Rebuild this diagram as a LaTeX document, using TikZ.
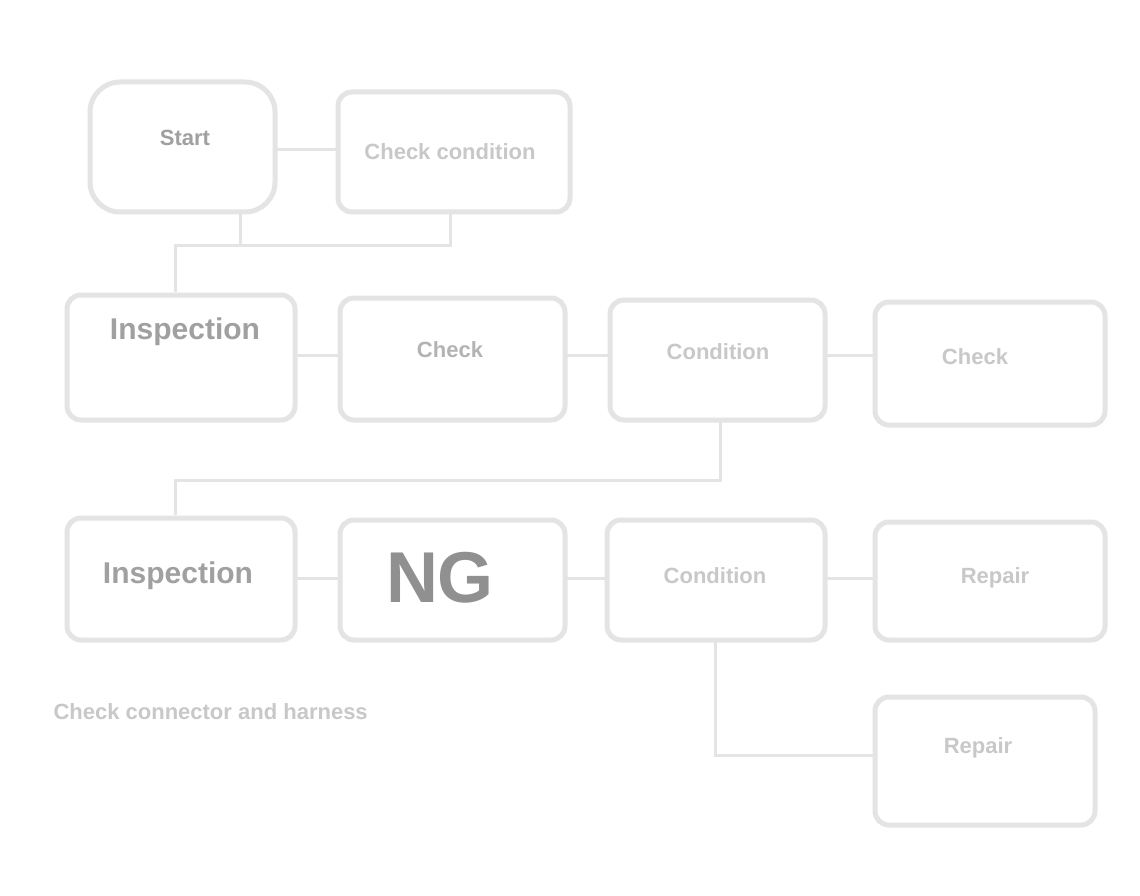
\documentclass[tikz,border=0pt]{standalone}
\usepackage{fontspec}
\setmainfont{Liberation Sans}
\usetikzlibrary{arrows.meta}
\definecolor{boxline}{HTML}{E4E4E4}
\definecolor{txt}{HTML}{C8C8C8}
\definecolor{darktxt}{HTML}{A0A0A0}
\definecolor{darkertxt}{HTML}{909090}
\tikzset{
  stepbox/.style={draw=boxline, line width=5pt, rounded corners=14pt, fill=white},
  lbl/.style={text=txt, font=\fontsize{22}{26}\selectfont\bfseries},
  dlbl/.style={text=darktxt, font=\fontsize{30}{34}\selectfont\bfseries},
  conn/.style={draw=boxline, line width=3pt},
}
\begin{document}
\begin{tikzpicture}[x=1pt,y=-1pt]
\useasboundingbox (0,0) rectangle (1140,896);
\fill[white] (0,0) rectangle (1140,896);
% row 1
\draw[stepbox, rounded corners=30pt] (90,82) rectangle (275,212);
\draw[stepbox] (338,92) rectangle (570,212);
\node[lbl, text=darktxt] (t1) at (185,138) {Start};
\node[lbl] (t2) at (450,152) {Check condition};
\coordinate (a1) at (275,150);
\coordinate (b1) at (338,150);
\draw[conn] (a1) -- (b1);
\coordinate (a1s) at (240,212);
\coordinate (b1s) at (450,212);
\coordinate (j1) at (175,292);
\draw[conn] (b1s) -- (450,245) -- (175,245) -- (j1);
\draw[conn] (a1s) -- (240,245);
% row 2
\draw[stepbox] (67,295) rectangle (295,420);
\draw[stepbox] (340,298) rectangle (565,420);
\draw[stepbox] (610,300) rectangle (825,420);
\draw[stepbox] (875,302) rectangle (1105,425);
\node[dlbl] (r21) at (185,332) {Inspection};
\node[lbl, text=darktxt!80] (r22) at (450,350) {Check};
\node[lbl] (r23) at (718,352) {Condition};
\node[lbl] (r24) at (975,357) {Check};
\coordinate (c21) at (295,355);
\coordinate (c22) at (340,355);
\coordinate (c23) at (565,355);
\coordinate (c24) at (610,355);
\coordinate (c25) at (825,355);
\coordinate (c26) at (875,355);
\draw[conn] (c21) -- (c22);
\draw[conn] (c23) -- (c24);
\draw[conn] (c25) -- (c26);
\coordinate (d2) at (720,420);
\coordinate (j2) at (175,515);
\draw[conn] (d2) -- (720,480) -- (175,480) -- (j2);
% row 3
\draw[stepbox] (67,518) rectangle (295,640);
\draw[stepbox] (340,520) rectangle (565,640);
\draw[stepbox] (607,520) rectangle (825,640);
\draw[stepbox] (875,522) rectangle (1105,640);
\node[dlbl] (r31) at (178,576) {Inspection};
\node[text=darkertxt, font=\fontsize{72}{76}\selectfont\bfseries] (r32) at (440,578) {NG};
\node[lbl] (r33) at (715,576) {Condition};
\node[lbl] (r34) at (995,578) {Repair};
\coordinate (c31) at (295,578);
\coordinate (c32) at (340,578);
\coordinate (c33) at (565,578);
\coordinate (c34) at (607,578);
\coordinate (c35) at (825,578);
\coordinate (c36) at (875,578);
\draw[conn] (c31) -- (c32);
\draw[conn] (c33) -- (c34);
\draw[conn] (c35) -- (c36);
% bottom
\draw[stepbox] (875,697) rectangle (1095,825);
\node[lbl] (r41) at (978,748) {Repair};
\coordinate (d3) at (715,640);
\coordinate (e3) at (875,755);
\draw[conn] (d3) -- (715,755) -- (e3);
\node[lbl, anchor=west] (note) at (50,712) {Check connector and harness};
\end{tikzpicture}
\end{document}
